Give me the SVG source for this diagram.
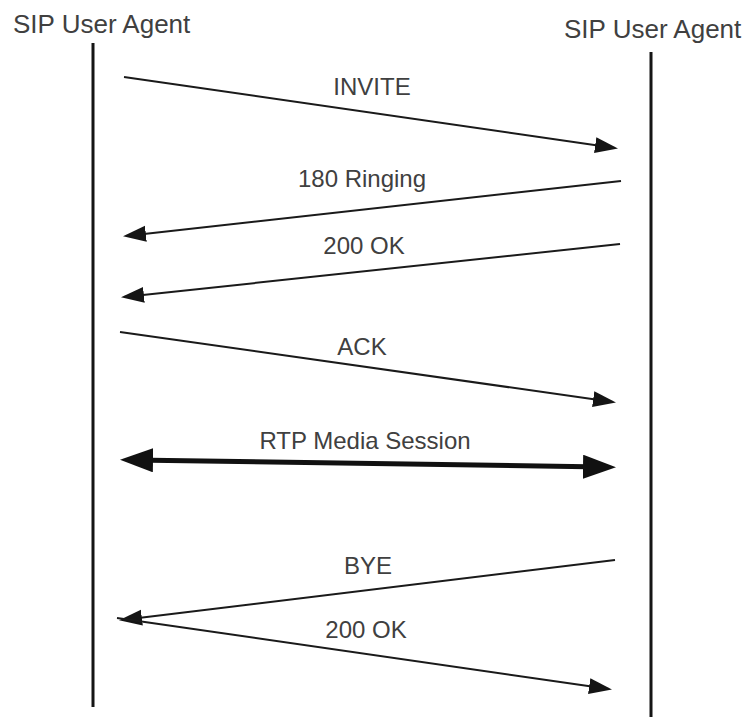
<svg xmlns="http://www.w3.org/2000/svg" width="743" height="717" viewBox="0 0 743 717">
  <style>
    .hdr { font-family: "Liberation Sans", Arial, sans-serif; font-size: 26px; fill: #404040; }
    .lbl { font-family: "Liberation Sans", Arial, sans-serif; font-size: 24px; fill: #404040; text-anchor: middle; }
    .life { stroke: #151515; stroke-width: 3; }
    .msg { stroke: #1a1a1a; stroke-width: 2; fill: none; marker-end: url(#head); }
    .media { stroke: #111; stroke-width: 5; fill: none; marker-start: url(#bighead); marker-end: url(#bighead); }
  </style>
  <defs>
    <marker id="head" markerUnits="userSpaceOnUse" markerWidth="24" markerHeight="18" refX="20" refY="8" orient="auto">
      <path d="M0,0 L23,8 L0,16 z" fill="#151515"/>
    </marker>
    <marker id="bighead" markerUnits="userSpaceOnUse" markerWidth="34" markerHeight="26" refX="20" refY="12" orient="auto-start-reverse">
      <path d="M0,0 L33,12 L0,24 z" fill="#111"/>
    </marker>
  </defs>
  <rect width="743" height="717" fill="#fff"/>

  <g id="ua-left">
    <text class="hdr" x="13" y="33">SIP User Agent</text>
    <line class="life" x1="93" y1="43" x2="93" y2="707"/>
  </g>
  <g id="ua-right">
    <text class="hdr" x="564" y="38">SIP User Agent</text>
    <line class="life" x1="651" y1="52" x2="651" y2="717"/>
  </g>

  <g id="connectors">
    <line class="msg" x1="124" y1="77" x2="615" y2="148"/>
    <text class="lbl" x="372" y="95">INVITE</text>

    <line class="msg" x1="621" y1="181" x2="126" y2="236"/>
    <text class="lbl" x="362" y="187">180 Ringing</text>

    <line class="msg" x1="620" y1="244" x2="124" y2="297"/>
    <text class="lbl" x="364" y="254">200 OK</text>

    <line class="msg" x1="120" y1="332" x2="613" y2="402"/>
    <text class="lbl" x="362" y="355">ACK</text>

    <line class="media" x1="133" y1="460" x2="603" y2="467"/>
    <text class="lbl" x="365" y="449">RTP Media Session</text>

    <line class="msg" x1="615" y1="560" x2="122" y2="620"/>
    <text class="lbl" x="368" y="574">BYE</text>

    <line class="msg" x1="117" y1="618" x2="609" y2="689"/>
    <text class="lbl" x="366" y="638">200 OK</text>
  </g>
</svg>
